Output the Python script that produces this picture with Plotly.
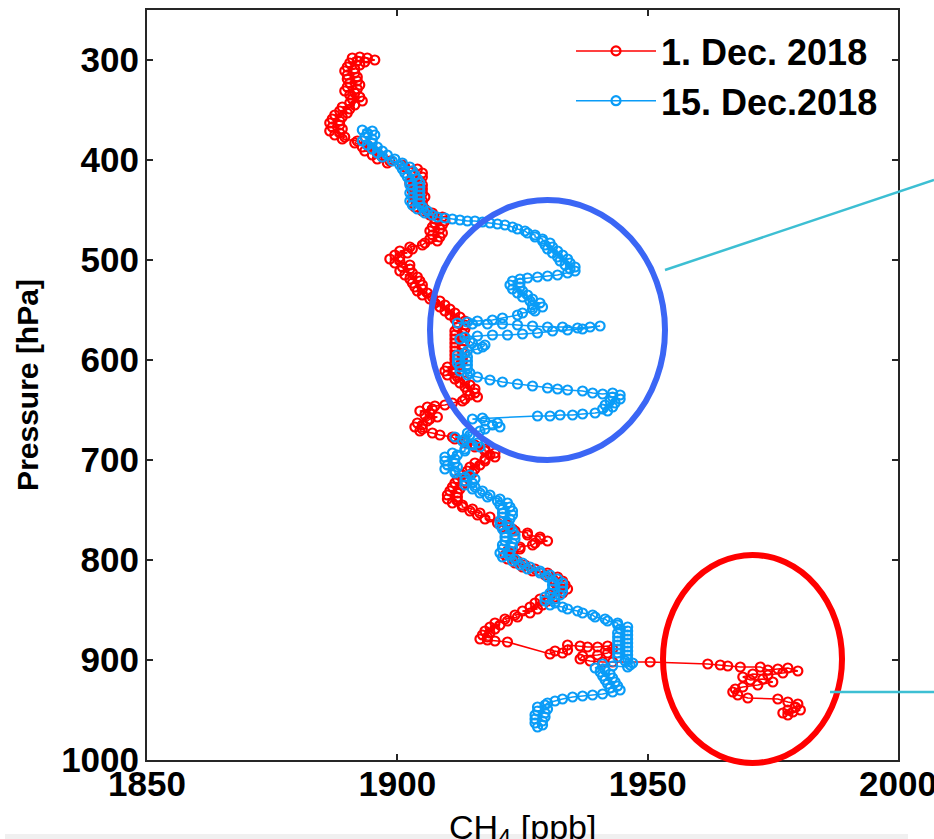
import plotly.graph_objects as go

# CH4 vertical profiles (ppb vs. pressure in hPa), in flight order
red_ch4 = [
    1891, 1892.5, 1894, 1895.5, 1893.5, 1892, 1890.5,
    1892.5, 1890, 1891.5, 1889.5, 1891.5, 1890, 1892, 1890, 1892, 1890.5, 1892.5, 1890, 1892, 1889.5,
    1891.5, 1890.5, 1892.5, 1891, 1893, 1890.5, 1891.5, 1889, 1890.5, 1888.5, 1890, 1887.5, 1889, 1887,
    1888.5, 1886.5, 1888.5, 1887, 1889, 1886.5, 1888.5, 1887.5, 1889.5, 1889, 1892, 1891.5, 1894, 1893,
    1895, 1893.5, 1896, 1895, 1897, 1896, 1898.5, 1898, 1901, 1901.5, 1904, 1903, 1905, 1903, 1905, 1903,
    1904.5, 1902.5, 1905, 1903, 1905, 1903, 1905, 1903.5, 1905.5, 1903.5, 1905, 1903, 1905, 1903.5,
    1905.5, 1905, 1907, 1906.5, 1909, 1907.5, 1909.5, 1907.5, 1909, 1907, 1908.5, 1906.5, 1909, 1907,
    1908.5, 1906.5, 1908, 1905.5, 1905, 1902.5, 1903, 1900.5, 1902, 1899.5, 1900.5, 1898.5, 1900.5,
    1899.5, 1902.5, 1901, 1902.5, 1900.5, 1903, 1901.5, 1904, 1902.5, 1904.5, 1903, 1905, 1903.5, 1905,
    1904, 1906, 1905, 1907, 1906.5, 1908.5, 1907.5, 1909.5, 1908.5, 1910.5, 1909.5, 1911.5, 1910.5,
    1912.5, 1911.5, 1913.5, 1912, 1913.5, 1912, 1913.5, 1911.5, 1913, 1911.5, 1913, 1911.5, 1913.5,
    1911.5, 1913, 1911.5, 1913, 1911.5, 1913.5, 1911.5, 1913, 1911.5, 1913, 1911.5, 1912.5, 1910,
    1911.5, 1909.5, 1911.5, 1910, 1912, 1911.5, 1913.5, 1912.5, 1914.5, 1913.5, 1915.5, 1914, 1915.5,
    1914.5, 1916, 1913.5, 1913, 1911, 1909.5, 1907.5, 1906, 1907, 1904.5, 1906.5, 1905.5, 1908, 1906.5,
    1906, 1904, 1905, 1903.5, 1905, 1904.5, 1907, 1908.5, 1911, 1911.5, 1913.5, 1913.5, 1915.5, 1915.5,
    1917.5, 1917.5, 1919.5, 1918.5, 1919.5, 1917.5, 1917.5, 1915.5, 1916.5, 1914.5, 1915.5, 1914, 1915,
    1913, 1914, 1912, 1913.5, 1911.5, 1913, 1911, 1912.5, 1910.5, 1912, 1910, 1912, 1910, 1912, 1911,
    1913, 1913, 1915, 1914.5, 1916.5, 1916, 1918.5, 1917.5, 1920.5, 1920, 1922, 1921, 1923, 1923.5,
    1926, 1926, 1928.5, 1928.5, 1930, 1927.5, 1927, 1924.5, 1924.5, 1922, 1923, 1921.5, 1923, 1922,
    1924, 1923.5, 1925.5, 1925, 1927.5, 1927, 1930, 1929.5, 1932, 1931, 1933, 1931.5, 1933.5, 1932,
    1934, 1932, 1933, 1930.5, 1931.5, 1928.5, 1930, 1927.5, 1929, 1926.5, 1928, 1925, 1926.5, 1923.5,
    1924, 1921.5, 1922, 1919.5, 1920.5, 1918.5, 1919.5, 1917.5, 1918.5, 1917, 1918, 1916.5, 1918,
    1919.5, 1922,
    1930.5, 1931.5, 1933, 1934, 1934, 1936.5, 1938, 1940, 1942, 1943, 1942, 1940, 1937, 1936.5, 1938.5,
    1941, 1943, 1950.5,
    1962, 1964.5, 1966, 1968.5, 1972.5, 1974, 1976, 1978, 1980, 1977, 1974, 1971, 1969, 1970.5, 1973,
    1975, 1972, 1969, 1967.5, 1967, 1968, 1970, 1976, 1978, 1980, 1979.5, 1978, 1977, 1979, 1980.5, 1978,
]
red_p = [
    298, 297, 298, 300, 302, 301, 303,
    305, 307, 309, 311, 313, 315, 317, 319, 321, 323, 325, 327, 329, 331,
    333, 335, 337, 339, 341, 343, 345, 347, 349, 351, 353, 355, 357, 359,
    361, 363, 365, 367, 369, 371, 373, 375, 377, 379, 381, 383, 385, 387,
    389, 391, 393, 395, 397, 399, 401, 403, 405, 407, 409, 411, 413, 415, 417, 419,
    421, 423, 425, 427, 429, 431, 433, 435, 437, 439, 441, 443, 445, 447,
    449, 451, 453, 455, 457, 459, 461, 463, 465, 467, 469, 471, 473, 475,
    477, 479, 481, 483, 485, 487, 489, 491, 493, 495, 497, 499, 501,
    503, 505, 507, 509, 511, 513, 515, 517, 519, 521, 523, 525, 527, 529,
    531, 533, 535, 537, 539, 541, 543, 545, 547, 549, 551, 553, 555,
    557, 559, 561, 563, 565, 567, 569, 571, 573, 575, 577, 579, 581,
    583, 585, 587, 589, 591, 593, 595, 597, 599, 601, 603, 605, 607,
    609, 611, 613, 615, 617, 619, 621, 623, 625, 627, 629, 631, 633,
    635, 637, 639, 641, 643, 645, 646, 647, 649, 651, 653, 655, 657, 659,
    661, 663, 665, 667, 669, 671, 673, 675, 677, 679, 681, 683, 685, 687,
    689, 691, 693, 695, 697, 699, 701, 703, 705, 707, 709, 711, 713,
    715, 717, 719, 721, 723, 725, 727, 729, 731, 733, 735, 737, 739, 741,
    743, 745, 747, 749, 751, 753, 755, 757, 759, 761, 763, 765, 767, 769,
    771, 773, 775, 777, 779, 781, 783, 785, 787, 789, 791, 793, 795, 797,
    799, 801, 803, 805, 807, 809, 811, 813, 815, 817, 819, 821, 823, 825,
    827, 829, 831, 833, 835, 837, 839, 841, 843, 845, 847, 849, 851, 853,
    855, 857, 859, 861, 863, 865, 867, 869, 871, 873, 875, 877, 879, 880,
    881, 882,
    894, 891, 893, 890, 885, 886, 887, 887, 886, 889, 893, 895, 896, 899, 901,
    902, 902, 902,
    904, 905, 906, 907, 907, 910, 909, 908, 911, 913, 915, 914, 917, 920, 919,
    922, 925, 927, 929, 932, 935, 938, 939, 942, 944, 947, 950, 953, 952, 950, 955,
]

blue_ch4 = [
    1893, 1895, 1894, 1895.5, 1893.5, 1895, 1893, 1895, 1894, 1896, 1895, 1897, 1896, 1898, 1897, 1899.5,
    1899, 1901, 1900.5, 1902.5, 1901, 1903, 1901.5, 1903.5, 1902, 1904, 1902.5, 1904.5, 1902.5, 1904.5,
    1903, 1904.5, 1902.5, 1904.5, 1903, 1904.5, 1902.5, 1904.5, 1903, 1905, 1904, 1906, 1905.5, 1907,
    1908, 1909.5, 1911, 1912.5, 1914, 1915.5, 1917, 1918.5, 1920, 1921.5, 1923,
    1924, 1925.5, 1926, 1927.5, 1927.5, 1929, 1929, 1930.5, 1929.5, 1931, 1930, 1932, 1931, 1933, 1932,
    1934, 1932.5, 1934.5, 1933.5, 1935.5, 1934.5, 1935.5, 1934,
    1932, 1930, 1928, 1926, 1924.5,
    1923, 1924.5, 1922.5, 1924.5, 1923, 1925, 1924, 1926, 1925, 1927, 1926.5, 1928.5, 1927, 1929, 1927,
    1927.5, 1925, 1924,
    1921, 1919, 1916, 1914, 1912, 1915, 1918, 1921, 1924, 1927, 1930, 1933, 1936, 1938.5, 1940.5, 1937,
    1934, 1931, 1928, 1925, 1922, 1919, 1916, 1913.5,
    1912.5, 1914.5, 1915, 1917.5, 1917, 1916, 1914, 1913.5, 1912, 1914, 1912, 1914, 1912, 1914, 1912.5,
    1914, 1912.5, 1914.5, 1914, 1916,
    1918.5, 1921, 1924, 1927, 1930, 1932, 1934,
    1937, 1939, 1941, 1943, 1944.5, 1943, 1944.5, 1942.5, 1943.5, 1941.5, 1943, 1941, 1942, 1939.5,
    1937, 1935, 1932.5, 1930.5, 1928,
    1917, 1915, 1917.5, 1920, 1919, 1920.5, 1917.5, 1916.5, 1914, 1914.5, 1911.5, 1913.5, 1913, 1916,
    1915, 1916.5, 1913.5, 1913.5, 1911, 1912, 1909.5, 1911.5, 1909.5, 1911.5, 1910, 1912, 1909.5,
    1911.5, 1911.5, 1914.5, 1913.5, 1915.5, 1913.5, 1915, 1913.5, 1915.5, 1915, 1917, 1916.5, 1918.5,
    1918, 1920.5, 1920, 1922, 1920.5, 1922.5, 1921, 1923, 1921, 1923, 1921, 1922.5, 1920.5, 1922,
    1920.5, 1922.5, 1921, 1923, 1921.5, 1923.5, 1921.5, 1923.5, 1921.5, 1923, 1921, 1923, 1921, 1922.5,
    1920.5, 1922.5, 1921, 1923.5, 1923, 1925, 1924.5, 1926.5, 1926, 1928.5, 1928.5, 1930.5, 1930, 1932,
    1931, 1933, 1931, 1933, 1931, 1933, 1930.5, 1932.5, 1929.5, 1931.5, 1929.5, 1931.5, 1930.5, 1933,
    1934, 1936, 1937, 1939, 1939.5, 1941.5, 1942, 1944, 1944, 1946, 1944.5, 1946, 1944, 1946, 1944,
    1946, 1944, 1946, 1944, 1946, 1944, 1946, 1944, 1946, 1944, 1946, 1945.5, 1947, 1946.5, 1946,
    1943, 1941, 1939.5, 1941.5, 1940.5, 1942.5, 1941, 1943, 1941.5, 1943.5, 1942, 1944, 1942.5, 1944.5,
    1943,
    1941, 1939, 1937, 1935, 1933, 1931.5, 1930,
    1929.5, 1928, 1930, 1928, 1929.5, 1927.5, 1929.5, 1927.5, 1929, 1927.5, 1929, 1928,
]
blue_p = [
    370, 371, 373, 375, 377, 379, 381, 383, 385, 387, 389, 391, 393, 395, 397, 399,
    401, 403, 405, 407, 409, 411, 413, 415, 417, 419, 421, 423, 425, 427,
    429, 431, 433, 435, 437, 439, 441, 443, 445, 447, 449, 451, 453, 455,
    457, 458, 459, 460, 461, 461, 462, 463, 464, 465, 467,
    469, 471, 473, 475, 477, 479, 481, 483, 485, 487, 489, 491, 493, 495, 497,
    499, 501, 503, 505, 507, 509, 511, 513,
    515, 516, 517, 518, 519,
    521, 523, 525, 527, 529, 531, 533, 535, 537, 539, 541, 543, 545, 547, 549,
    551, 553, 555,
    558, 560, 561, 562, 563, 564, 564, 564, 565, 566, 567, 567, 568, 567, 566, 569,
    570, 571, 573, 574, 575, 575, 576, 577,
    579, 581, 583, 585, 587, 589, 591, 593, 595, 597, 599, 601, 603, 605, 607,
    609, 611, 613, 615, 617,
    620, 622, 624, 626, 628, 629, 630,
    631, 633, 634, 633, 635, 637, 639, 641, 643, 645, 647, 649, 651, 653,
    654, 655, 655, 656, 656,
    658, 659, 661, 663, 665, 667, 669, 671, 673, 675, 677, 679, 681, 683,
    685, 687, 689, 691, 693, 695, 697, 699, 701, 703, 705, 707, 709,
    711, 713, 715, 717, 719, 721, 723, 725, 727, 729, 731, 733, 735, 737,
    739, 741, 743, 745, 747, 749, 751, 753, 755, 757, 759, 761, 763, 765,
    767, 769, 771, 773, 775, 777, 779, 781, 783, 785, 787, 789, 791, 793,
    795, 797, 799, 801, 803, 805, 807, 809, 811, 813, 815, 817, 819, 821,
    823, 825, 827, 829, 831, 833, 835, 837, 839, 841, 843, 845, 847, 849,
    851, 853, 855, 857, 859, 861, 863, 865, 867, 869, 871, 873, 875, 877,
    879, 881, 883, 885, 887, 889, 891, 893, 895, 897, 899, 901, 903, 905, 907,
    906, 904, 908, 910, 912, 914, 916, 918, 920, 922, 924, 926, 928, 930,
    932,
    934, 935, 936, 937, 939, 941, 943,
    945, 947, 949, 951, 953, 955, 957, 959, 961, 963, 965, 967,
]

x_ticks = [1850, 1900, 1950, 2000]
y_ticks = [300, 400, 500, 600, 700, 800, 900, 1000]

RED = "#FF0000"
BLUE = "#0A9CF7"
FONT = "Liberation Sans, Arial, sans-serif"

fig = go.Figure()
fig.add_trace(go.Scatter(
    x=red_ch4, y=red_p, mode="lines+markers", name="1. Dec. 2018",
    line=dict(color=RED, width=1.5),
    marker=dict(symbol="circle-open", size=9, color=RED, line=dict(width=2.2)),
))
fig.add_trace(go.Scatter(
    x=blue_ch4, y=blue_p, mode="lines+markers", name="15. Dec.2018",
    line=dict(color=BLUE, width=1.5),
    marker=dict(symbol="circle-open", size=9, color=BLUE, line=dict(width=2.2)),
))

L, R, T, B = 147, 36, 10, 79
W, H = 934, 839
pw, ph = W - L - R, H - T - B


def px(xp):
    return (xp - L) / pw


def py(yp):
    return (H - B - yp) / ph


shapes = [
    # highlight around the upper-troposphere excursions
    dict(type="circle", xref="paper", yref="paper", x0=px(430), x1=px(665), y0=py(460), y1=py(200),
         line=dict(color="#3B66F5", width=6)),
    # highlight around the near-surface enhancement
    dict(type="circle", xref="paper", yref="paper", x0=px(663), x1=px(842), y0=py(763), y1=py(555),
         line=dict(color="#FF0000", width=6)),
    # callout leaders
    dict(type="line", xref="paper", yref="paper", x0=px(665), y0=py(270), x1=px(934), y1=py(180),
         line=dict(color="#3DBFD3", width=2.5)),
    dict(type="line", xref="paper", yref="paper", x0=px(830), y0=py(692), x1=px(934), y1=py(692),
         line=dict(color="#3DBFD3", width=2.5)),
    # strip along the bottom edge
    dict(type="rect", xref="paper", yref="paper", x0=px(5), x1=px(908), y0=py(839), y1=py(834),
         fillcolor="#F0F0F0", line=dict(width=0)),
]

axis_common = dict(
    showline=True, linecolor="#262626", linewidth=2, mirror="ticks",
    ticks="inside", ticklen=6, tickwidth=1.5, tickcolor="#262626",
    showgrid=False, zeroline=False, automargin=False,
    ticklabeloverflow="allow",
    tickfont=dict(family=FONT, size=35, color="black", weight="bold"),
)

fig.update_layout(
    width=W, height=H,
    margin=dict(l=L, r=R, t=T, b=B),
    paper_bgcolor="white", plot_bgcolor="white",
    shapes=shapes,
    showlegend=True,
    legend=dict(
        x=px(571), y=py(21), xanchor="left", yanchor="top",
        bgcolor="rgba(0,0,0,0)", borderwidth=0,
        font=dict(family=FONT, size=36, color="black", weight="bold"),
        itemwidth=80, tracegroupgap=0,
    ),
    xaxis=dict(range=[1850, 2000], tickvals=x_ticks, ticklabelstandoff=-8, **axis_common),
    yaxis=dict(
        range=[1000, 250], tickvals=y_ticks, ticklabelstandoff=-1,
        title=dict(text="Pressure [hPa]", standoff=14,
                   font=dict(family=FONT, size=30, color="black", weight="bold")),
        **axis_common,
    ),
    # x-axis title, running off the lower edge of the page
    annotations=[dict(
        text="CH<sub>4</sub> [ppb]", xref="paper", yref="paper",
        x=0.5, y=py(829), xanchor="center", yanchor="middle", showarrow=False,
        font=dict(family=FONT, size=34, color="black"),
    )],
)

fig.write_html("out.html")
